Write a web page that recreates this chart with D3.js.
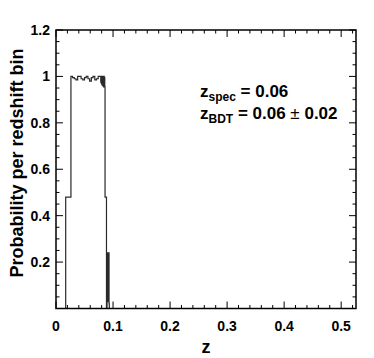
<!DOCTYPE html>
<html>
<head>
<meta charset="utf-8">
<script src="https://cdn.jsdelivr.net/npm/d3@7"></script>
<style>
  body { margin: 0; background: #fff; }
  svg text { font-family: "Liberation Sans", Arial, sans-serif; font-weight: bold; fill: #000; }
</style>
</head>
<body>
<div id="chart"></div>
<script>
// histogram bin edges (z) and probability per bin
const binEdges = [
  0.0170, 0.0262,
  0.029, 0.032, 0.035, 0.038, 0.041, 0.044, 0.047, 0.050, 0.053, 0.056,
  0.059, 0.062, 0.065, 0.068, 0.071, 0.074, 0.078,
  0.0785, 0.0790, 0.0795, 0.0800, 0.0805, 0.0810, 0.0815, 0.0820,
  0.0825, 0.0830, 0.0835, 0.0840, 0.0845, 0.0850, 0.0855, 0.0860,
  0.0885, 0.0895,
  0.0900, 0.0905, 0.0910, 0.0915, 0.0920, 0.0925, 0.0930, 0.0935
];
const probs = [
  0.48,
  1.0, 0.995, 0.99, 0.985, 1.0, 1.0, 0.99, 0.985, 0.995, 1.0,
  0.99, 0.98, 0.995, 1.0, 0.985, 0.99, 1.0,
  1.0, 0.975, 1.0, 0.97, 1.0, 0.965, 0.995, 0.96,
  1.0, 0.96, 0.99, 0.955, 1.0, 0.96, 0.995, 0.955,
  0.48, 0.0,
  0.24, 0.03, 0.24, 0.03, 0.24, 0.03, 0.24, 0.02
];
const xTicks = [0, 0.1, 0.2, 0.3, 0.4, 0.5];
const yTicks = [0.2, 0.4, 0.6, 0.8, 1, 1.2];
const xLabel = "z";
const yLabel = "Probability per redshift bin";

const width = 374, height = 358;
const margin = { top: 30, right: 18, bottom: 49.5, left: 56 };
const wViz = width - margin.left - margin.right;
const hViz = height - margin.top - margin.bottom;

const svg = d3.select("#chart").append("svg")
  .attr("width", width)
  .attr("height", height);

const x = d3.scaleLinear().domain([0, 0.526]).range([margin.left, margin.left + wViz]);
const y = d3.scaleLinear().domain([0, 1.2]).range([margin.top + hViz, margin.top]);

// minor ticks: x every 0.02, y every 0.05
const xMinor = d3.range(0, 0.526, 0.02).filter(v => Math.abs(v * 10 - Math.round(v * 10)) > 1e-6);
const yMinor = d3.range(0, 1.2001, 0.05).filter(v => Math.abs(v * 5 - Math.round(v * 5)) > 1e-6);

const tickG = svg.append("g").attr("stroke", "#000").attr("stroke-width", 1);
const yBot = y(0), yTop = y(1.2), xLeft = x(0), xRight = x(0.526);
function xt(v, len){
  tickG.append("line").attr("x1", x(v)).attr("x2", x(v)).attr("y1", yBot).attr("y2", yBot - len);
  tickG.append("line").attr("x1", x(v)).attr("x2", x(v)).attr("y1", yTop).attr("y2", yTop + len);
}
function yt(v, len){
  tickG.append("line").attr("y1", y(v)).attr("y2", y(v)).attr("x1", xLeft).attr("x2", xLeft + len);
  tickG.append("line").attr("y1", y(v)).attr("y2", y(v)).attr("x1", xRight).attr("x2", xRight - len);
}
xTicks.forEach(v => xt(v, 7));
xMinor.forEach(v => xt(v, 3.5));
yTicks.forEach(v => yt(v, 7));
yMinor.forEach(v => yt(v, 3.5));

// histogram as a step line
const pts = [[binEdges[0], 0]];
probs.forEach((p, i) => {
  pts.push([binEdges[i], p]);
  pts.push([binEdges[i + 1], p]);
});
pts.push([binEdges[binEdges.length - 1], 0]);

svg.append("path")
  .attr("d", d3.line().x(d => x(d[0])).y(d => y(d[1]))(pts))
  .attr("fill", "none")
  .attr("stroke", "#2a2a2a")
  .attr("stroke-width", 1.2);

// frame
svg.append("rect")
  .attr("x", xLeft).attr("y", yTop)
  .attr("width", xRight - xLeft).attr("height", yBot - yTop)
  .attr("fill", "none").attr("stroke", "#000").attr("stroke-width", 1.5);

// tick labels
svg.append("g").selectAll("text").data(xTicks).enter().append("text")
  .attr("x", d => x(d)).attr("y", yBot + 22)
  .attr("text-anchor", "middle").attr("font-size", 14)
  .text(d => d === 0 ? "0" : d3.format(".1f")(d));

svg.append("g").selectAll("text").data(yTicks).enter().append("text")
  .attr("x", xLeft - 6).attr("y", d => y(d) + 5)
  .attr("text-anchor", "end").attr("font-size", 14)
  .text(d => d === 1 ? "1" : d3.format(".1f")(d));

// axis titles
svg.append("text")
  .attr("x", (xLeft + xRight) / 2).attr("y", 353)
  .attr("text-anchor", "middle").attr("font-size", 18)
  .text(xLabel);

svg.append("text")
  .attr("transform", `translate(23, 163) rotate(-90)`)
  .attr("text-anchor", "middle").attr("font-size", 18)
  .text(yLabel);

// annotation
const t1 = svg.append("text").attr("x", 200).attr("y", 97).attr("font-size", 17);
t1.append("tspan").text("z");
t1.append("tspan").attr("font-size", 12).attr("dy", 4).text("spec");
t1.append("tspan").attr("dy", -4).text(" = 0.06");

const t2 = svg.append("text").attr("x", 200).attr("y", 119).attr("font-size", 17);
t2.append("tspan").text("z");
t2.append("tspan").attr("font-size", 12).attr("dy", 4).text("BDT");
t2.append("tspan").attr("dy", -4).text(" = 0.06 ");
t2.append("tspan").style("font-weight", "normal").text("±");
t2.append("tspan").text(" 0.02");
</script>
</body>
</html>
